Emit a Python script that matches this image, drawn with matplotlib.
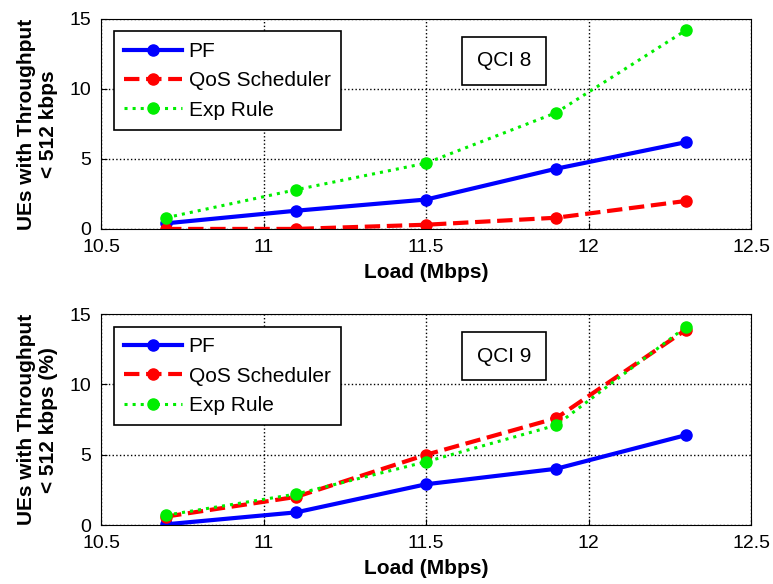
import matplotlib
matplotlib.use("Agg")
import matplotlib.pyplot as plt

load = [10.7, 11.1, 11.5, 11.9, 12.3]

# QCI 8
pf_8 = [0.4, 1.3, 2.1, 4.3, 6.2]
qos_8 = [0.0, 0.0, 0.3, 0.8, 2.0]
exp_8 = [0.8, 2.8, 4.7, 8.3, 14.2]

# QCI 9
pf_9 = [0.05, 0.9, 2.9, 4.0, 6.4]
qos_9 = [0.6, 2.0, 5.0, 7.6, 13.9]
exp_9 = [0.7, 2.2, 4.5, 7.1, 14.1]

series_names = ['PF', 'QoS Scheduler', 'Exp Rule']
ylabels = ['UEs with Throughput\n< 512 kbps', 'UEs with Throughput\n< 512 kbps (%)']
panel_tags = ['QCI 8', 'QCI 9']

plt.rcParams['font.family'] = ['Liberation Sans', 'DejaVu Sans']

fig = plt.figure(figsize=(7.73, 5.84), dpi=100)
ax1 = fig.add_axes([0.1307, 0.608, 0.841, 0.3596])
ax2 = fig.add_axes([0.1307, 0.101, 0.841, 0.361])

panels = [(ax1, pf_8, qos_8, exp_8), (ax2, pf_9, qos_9, exp_9)]
for i, (ax, pf, qos, ex) in enumerate(panels):
    ax.plot(load, pf, '-', color='#0000ff', lw=3, marker='o', ms=8, label=series_names[0])
    ax.plot(load, qos, '--', color='#ff0000', lw=3, marker='o', ms=8, label=series_names[1])
    ax.plot(load, ex, ':', color='#00ee00', lw=2.2, marker='o', ms=8, label=series_names[2])
    ax.set_xlim(10.5, 12.5)
    ax.set_ylim(0, 15)
    ax.set_xticks([10.5, 11, 11.5, 12, 12.5])
    ax.set_xticklabels(['10.5', '11', '11.5', '12', '12.5'])
    ax.set_yticks([0, 5, 10, 15])
    ax.grid(True, color='black', linestyle=':', lw=1)
    ax.tick_params(labelsize=14, direction='in', length=4, pad=7)
    ax.set_xlabel('Load (Mbps)', fontsize=15, fontweight='bold', labelpad=5)
    ax.set_ylabel(ylabels[i], fontsize=15, fontweight='bold', labelpad=8)
    leg = ax.legend(loc='upper left', fontsize=15, frameon=True, fancybox=False,
                    edgecolor='black', framealpha=1, handlelength=2.8,
                    borderaxespad=0.6, labelspacing=0.5, borderpad=0.5,
                    handletextpad=0.3)
    leg.get_frame().set_linewidth(1.2)
    ax.text(0.62, 0.80, panel_tags[i], transform=ax.transAxes, fontsize=15,
            ha='center', va='center',
            bbox=dict(boxstyle='square,pad=0.7', facecolor='white', edgecolor='black', lw=1.2))

fig.savefig('out.png', dpi=100)
